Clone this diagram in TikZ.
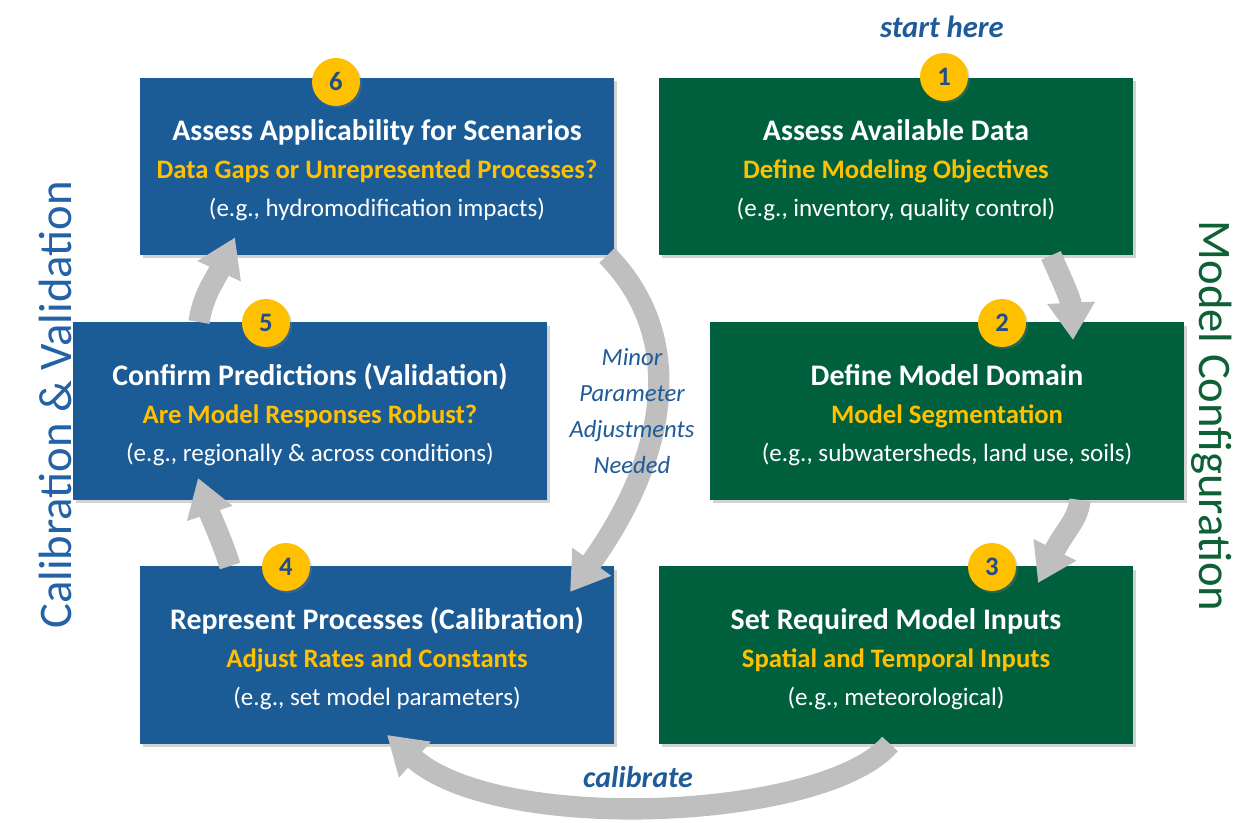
\documentclass[tikz,border=0pt]{standalone}
\usepackage{fontspec}
\setmainfont{Carlito}
\usetikzlibrary{arrows.meta,shadows,calc}
\definecolor{boxblue}{HTML}{1B5B96}
\definecolor{boxgreen}{HTML}{00603D}
\definecolor{gold}{HTML}{FFC000}
\definecolor{numblue}{HTML}{1F4E89}
\definecolor{lblblue}{HTML}{1F5A99}
\definecolor{sideblue}{HTML}{2362A6}
\definecolor{sidegreen}{HTML}{0E6035}
\definecolor{arrowgray}{HTML}{BFBFBF}
\tikzset{
  panel/.style={draw=none, minimum width=355.5pt, minimum height=133pt, inner sep=0pt,
    drop shadow={opacity=0.35, shadow xshift=2.5pt, shadow yshift=-2.5pt}},
  bluepanel/.style={panel, fill=boxblue},
  greenpanel/.style={panel, fill=boxgreen},
  ttl/.style={anchor=base, inner sep=0pt, text=white, font=\fontsize{22.4}{25}\selectfont\bfseries},
  sub/.style={anchor=base, inner sep=0pt, text=gold, font=\fontsize{20}{23}\selectfont\bfseries},
  eg/.style={anchor=base, inner sep=0pt, text=white, font=\fontsize{18.8}{22}\selectfont},
  badge/.style={circle, fill=gold, minimum size=36pt, inner sep=0pt, text=numblue,
    font=\fontsize{20}{22}\selectfont\bfseries,
    drop shadow={opacity=0.3, shadow xshift=1.5pt, shadow yshift=-1.5pt}},
  flow/.style={draw=arrowgray, line width=16pt, -{Triangle[width=34pt,length=28pt]}}
}
\begin{document}
\begin{tikzpicture}[x=0.75pt, y=-0.75pt]
\useasboundingbox (0,0) rectangle (1247,823);
\fill[white] (0,0) rectangle (1247,823);

% panels
\node[bluepanel]  (b6) at (377,166.5) {};
\node[greenpanel] (b1) at (896,166.5) {};
\node[bluepanel]  (b5) at (310,411) {};
\node[greenpanel] (b2) at (947,411) {};
\node[bluepanel]  (b4) at (377,655) {};
\node[greenpanel] (b3) at (896,655) {};

% arrows
\draw[flow] ($(b1.south)+(155,0)$) .. controls (1062,280) and (1071,300) .. ($(b2.north)+(126,18)$);
\draw[flow] ($(b2.south)+(133,0)$) .. controls (1078,520) and (1065,530) .. ($(b3.north)+(142,17)$);
\draw[flow] ($(b3.south)+(-6,0)$) .. controls (825,820) and (500,835) .. ($(b4.south)+(10,-9)$);
\draw[flow] ($(b4.north)+(-147,0)$) .. controls (222,540) and (212,520) .. ($(b5.south)+(-112,-22)$);
\draw[flow] ($(b5.north)+(-111,0)$) .. controls (203,295) and (215,280) .. ($(b6.south)+(-142,-18)$);
\draw[flow] ($(b6.south)+(230,0)$) .. controls (690,340) and (665,460) .. ($(b4.north)+(193,26)$);

% texts in panels
\node[ttl] (t6) at ($(b6.north)+(0,63)$) {Assess Applicability for Scenarios};
\node[sub] (s6) at ($(b6.north)+(0,101)$) {Data Gaps or Unrepresented Processes?};
\node[eg]  (e6) at ($(b6.north)+(0,139)$) {(e.g., hydromodification impacts)};

\node[ttl] (t1) at ($(b1.north)+(0,63)$) {Assess Available Data};
\node[sub] (s1) at ($(b1.north)+(0,101)$) {Define Modeling Objectives};
\node[eg]  (e1) at ($(b1.north)+(0,139)$) {(e.g., inventory, quality control)};

\node[ttl] (t5) at ($(b5.north)+(0,63)$) {Confirm Predictions (Validation)};
\node[sub] (s5) at ($(b5.north)+(0,101)$) {Are Model Responses Robust?};
\node[eg]  (e5) at ($(b5.north)+(0,139)$) {(e.g., regionally \& across conditions)};

\node[ttl] (t2) at ($(b2.north)+(0,63)$) {Define Model Domain};
\node[sub] (s2) at ($(b2.north)+(0,101)$) {Model Segmentation};
\node[eg]  (e2) at ($(b2.north)+(0,139)$) {(e.g., subwatersheds, land use, soils)};

\node[ttl] (t4) at ($(b4.north)+(0,63)$) {Represent Processes (Calibration)};
\node[sub] (s4) at ($(b4.north)+(0,101)$) {Adjust Rates and Constants};
\node[eg]  (e4) at ($(b4.north)+(0,139)$) {(e.g., set model parameters)};

\node[ttl] (t3) at ($(b3.north)+(0,63)$) {Set Required Model Inputs};
\node[sub] (s3) at ($(b3.north)+(0,101)$) {Spatial and Temporal Inputs};
\node[eg]  (e3) at ($(b3.north)+(0,139)$) {(e.g., meteorological)};

% badges
\node[badge] (n6) at (336,82) {6};
\node[badge] (n1) at (944,77) {1};
\node[badge] (n5) at (266,323) {5};
\node[badge] (n2) at (1002,323) {2};
\node[badge] (n4) at (286,567) {4};
\node[badge] (n3) at (992,567) {3};

% free labels
\node[text=lblblue, font=\fontsize{23}{25}\selectfont\bfseries\itshape] (start) at (942,27) {start here};
\node[text=lblblue, font=\fontsize{22.5}{25}\selectfont\bfseries\itshape] (calib) at (638,777) {calibrate};
\node[align=center, text=lblblue, font=\fontsize{18.5}{27}\selectfont\itshape] (minor) at (632,411)
  {Minor\\Parameter\\Adjustments\\Needed};
\node[rotate=90, text=sideblue, font=\fontsize{35}{38}\selectfont] (calval) at (55,405) {Calibration \& Validation};
\node[rotate=-90, text=sidegreen, font=\fontsize{35}{38}\selectfont] (modcfg) at (1212,416) {Model Configuration};
\end{tikzpicture}
\end{document}
